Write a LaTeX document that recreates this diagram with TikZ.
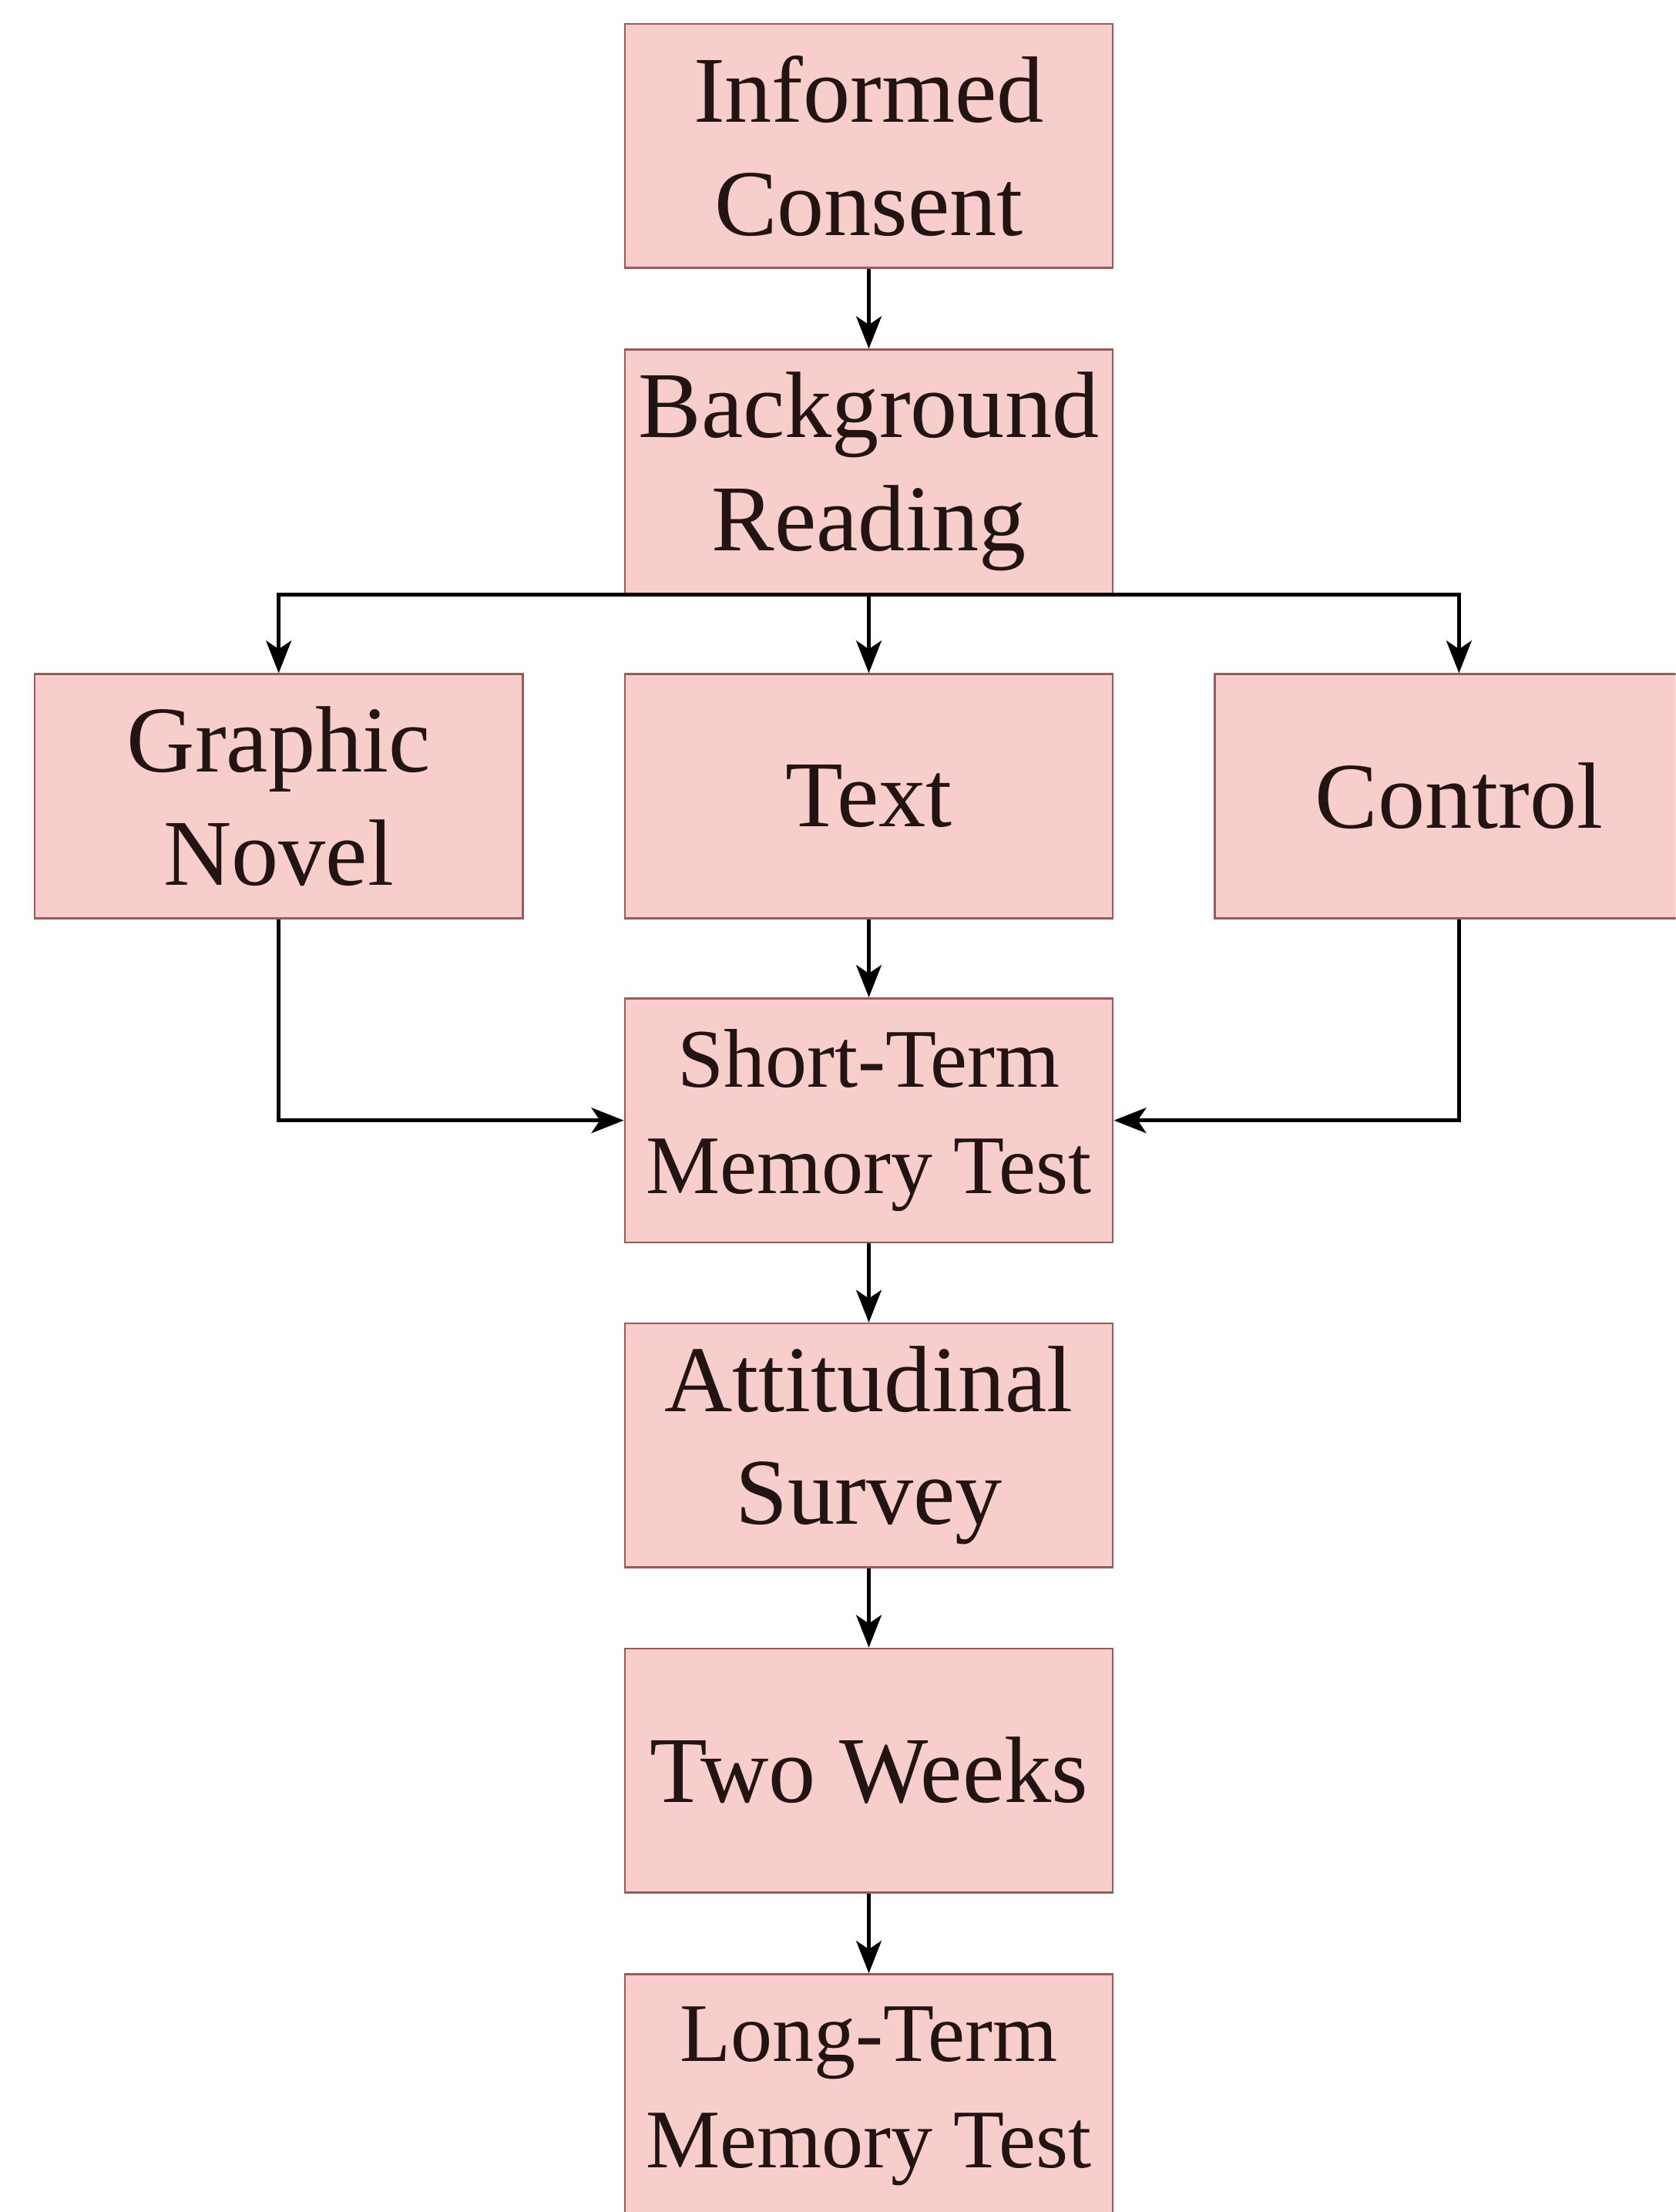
\documentclass[tikz,border=0pt]{standalone}
\usepackage{fontspec}
\setmainfont{Liberation Serif}
\usetikzlibrary{arrows.meta}
\usetikzlibrary{positioning}

\definecolor{stagefill}{HTML}{F8CECC}
\definecolor{stageline}{HTML}{9A5A57}
\definecolor{stagetext}{HTML}{231414}

\begin{document}
\begin{tikzpicture}[
        stage/.style={
            rectangle, draw=stageline, thin, fill=stagefill,
            minimum width=3.46cm, minimum height=1.73cm,
            inner sep=0pt, align=center, text=stagetext,
            font=\fontsize{19}{22.8}\selectfont,
        },
        smallstage/.style={stage, font=\fontsize{16.8}{21.5}\selectfont},
        flow/.style={
            -{Stealth[length=2.3mm, width=1.8mm, inset=0.6mm]},
            line width=0.7pt, black,
        },
    ]
        \path[use as bounding box, clip] (0,0) rectangle (11.88,-15.68);

        \node (consent) at(6.16,-1.035) [stage] {Informed\\Consent};
        \node (background) [stage, below=0.565cm of consent] {Background\\Reading};
        \node (text) [stage, below=0.555cm of background] {Text};
        \node (graphic) [stage, left=0.71cm of text] {Graphic\\Novel};
        \node (control) [stage, right=0.71cm of text] {Control};
        \node (stm) [smallstage, below=0.555cm of text] {Short-Term\\Memory Test};
        \node (survey) [stage, below=0.56cm of stm] {Attitudinal\\Survey};
        \node (weeks) [stage, below=0.56cm of survey] {Two Weeks};
        \node (ltm) [smallstage, below=0.565cm of weeks] {Long-Term\\Memory Test};

        \draw[flow] (consent) -- (background);
        \draw[flow] (background.south) -| (graphic.north);
        \draw[flow] (background) -- (text);
        \draw[flow] (background.south) -| (control.north);
        \draw[flow] (graphic.south) |- (stm.west);
        \draw[flow] (text) -- (stm);
        \draw[flow] (control.south) |- (stm.east);
        \draw[flow] (stm) -- (survey);
        \draw[flow] (survey) -- (weeks);
        \draw[flow] (weeks) -- (ltm);
    \end{tikzpicture}
\end{document}
